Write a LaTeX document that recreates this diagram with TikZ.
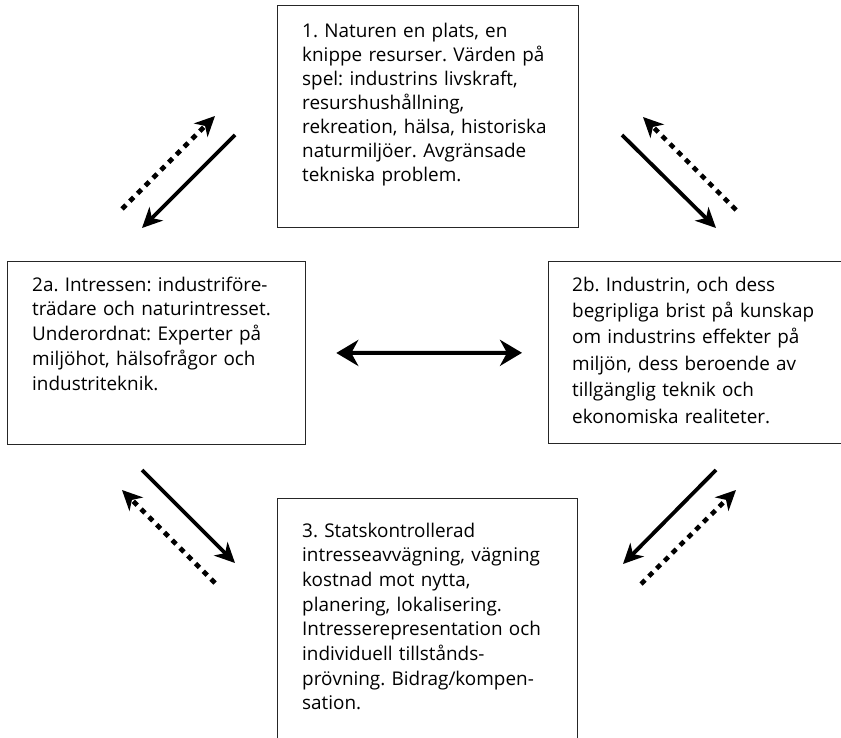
\documentclass[tikz,border=0pt]{standalone}
\usepackage{fontspec}
\setmainfont{Open Sans}
\usetikzlibrary{arrows.meta}
\frenchspacing

\begin{document}
\begin{tikzpicture}[x=1pt,y=-1pt]
\useasboundingbox (0,0) rectangle (841,738);

\tikzset{>={Stealth[length=20pt,width=19pt,inset=6pt]}}
\tikzstyle{box} = [draw=black!85, line width=1.3pt, rectangle, inner sep=0pt, anchor=north west];
\tikzstyle{txt} = [anchor=base west, inner sep=0pt, text width=290pt, align=left];
\tikzstyle{fwd} = [->, line width=3.8pt];
\tikzstyle{back} = [->, line width=4.6pt, dash pattern=on 5.5pt off 5.5pt];

\node[box, minimum width=301pt, minimum height=222pt] (b1) at (277,5) {};
\node[box, minimum width=298pt, minimum height=183pt] (b2a) at (7,261) {};
\node[box, minimum width=320pt, minimum height=182pt] (b2b) at (548,261) {};
\node[box, minimum width=300pt, minimum height=260pt] (b3) at (277,498) {};

\node[txt, font=\fontsize{18.9}{23.9}\selectfont] (t1) at (302,38) {1. Naturen en plats, en\\
knippe resurser. Värden på\\
spel: industrins livskraft,\\
resurshushållning,\\
rekreation, hälsa, historiska\\
naturmiljöer. Avgränsade\\
tekniska problem.};
\node[txt, font=\fontsize{18.9}{24.8}\selectfont] (t2a) at (32,291) {2a. Intressen: industriföre-\\
trädare och naturintresset.\\
Underordnat: Experter på\\
miljöhot, hälsofrågor och\\
industriteknik.};
\node[txt, font=\fontsize{18.9}{26.4}\selectfont] (t2b) at (572,291) {2b. Industrin, och dess\\
begripliga brist på kunskap\\
om industrins effekter på\\
miljön, dess beroende av\\
tillgänglig teknik och\\
ekonomiska realiteter.};
\node[txt, font=\fontsize{18.9}{24.7}\selectfont] (t3) at (302,537) {3. Statskontrollerad\\
intresseavvägning, vägning\\
kostnad mot nytta,\\
planering, lokalisering.\\
Intresserepresentation och\\
individuell tillstånds-\\
prövning. Bidrag/kompen-\\
sation.};

\coordinate (ul1) at (235,135); \coordinate (ul2) at (142,228);
\coordinate (ul3) at (122,209); \coordinate (ul4) at (215,116);
\coordinate (ur1) at (622,135); \coordinate (ur2) at (716,228);
\coordinate (ur3) at (736,210); \coordinate (ur4) at (643,117);
\coordinate (ll1) at (142,470); \coordinate (ll2) at (235,563);
\coordinate (ll3) at (215,583); \coordinate (ll4) at (122,490);
\coordinate (lr1) at (716,470); \coordinate (lr2) at (623,564);
\coordinate (lr3) at (641,584); \coordinate (lr4) at (736,490);

\draw[fwd] (ul1) -- (ul2);
\draw[back] (ul3) -- (ul4);
\draw[fwd] (ur1) -- (ur2);
\draw[back] (ur3) -- (ur4);
\draw[fwd] (ll1) -- (ll2);
\draw[back] (ll3) -- (ll4);
\draw[fwd] (lr1) -- (lr2);
\draw[back] (lr3) -- (lr4);

\draw[{Stealth[length=22pt,width=26pt,inset=7pt]}-{Stealth[length=22pt,width=26pt,inset=7pt]}, line width=4pt,
  shorten <=30pt, shorten >=26pt] (b2a) -- (b2b);
%\draw[fwd] (b1) -- (b3);

\end{tikzpicture}
\end{document}
